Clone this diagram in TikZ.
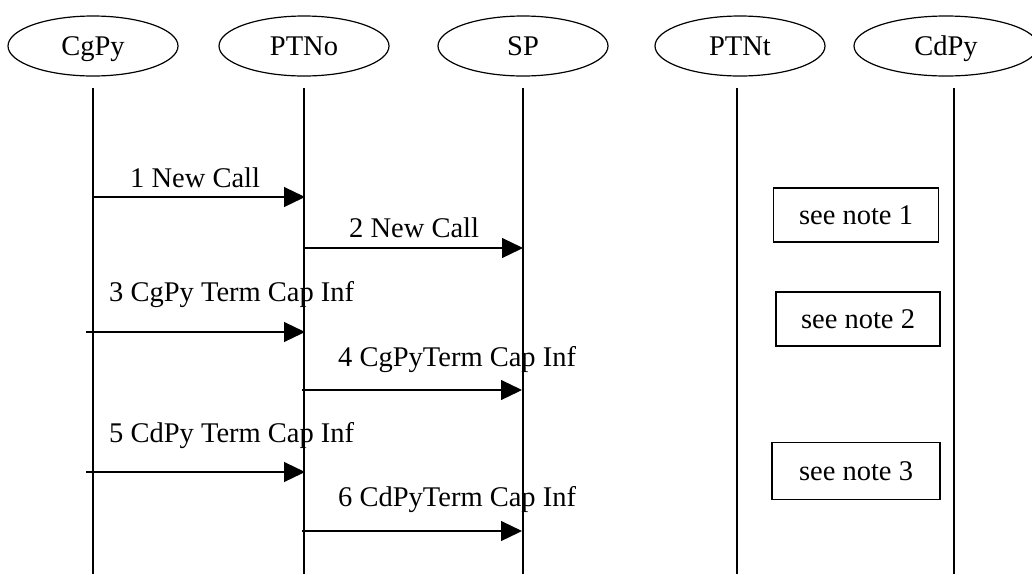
\documentclass[tikz,border=0pt]{standalone}
\usepackage{fontspec}
\setmainfont{Liberation Serif}
\usetikzlibrary{shapes.geometric, arrows.meta}

\begin{document}
\begin{tikzpicture}[x=1pt, y=-1pt, font=\fontsize{28.5}{34}\selectfont]
    % Styles
    \tikzstyle{party} = [ellipse, draw, line width=1.2pt, minimum width=170pt, minimum height=60pt, inner sep=0pt, text height=19pt, text depth=1pt]
    \tikzstyle{note} = [draw, line width=1.2pt, minimum width=165pt, minimum height=54pt, inner sep=0pt]
    \tikzstyle{msg} = [anchor=base west, inner sep=0pt]
    \tikzstyle{lifeline} = [line width=1.2pt]
    \tikzstyle{signal} = [-{Triangle[length=21pt, width=20pt]}, line width=1.2pt]

    \useasboundingbox (0,0) rectangle (1032,574);

    % Nodes
    \node[party] (cgpy) at (93, 46) {CgPy};
    \node[party] (ptno) at (304, 46) {PTNo};
    \node[party] (sp) at (523, 46) {SP};
    \node[party] (ptnt) at (740, 46) {PTNt};
    \node[party, minimum width=184pt] (cdpy) at (946, 46) {CdPy};

    \node[note] (note1) at (856, 215) {see note 1};
    \node[note, minimum width=164pt] (note2) at (858, 319) {see note 2};
    \node[note, minimum width=168pt, minimum height=57pt] (note3) at (856, 471) {see note 3};

    \node[msg] (msg1) at (130, 187) {1 New Call};
    \node[msg] (msg2) at (349, 237) {2 New Call};
    \node[msg] (msg3) at (109, 301) {3 CgPy Term Cap Inf};
    \node[msg] (msg4) at (338, 366) {4 CgPyTerm Cap Inf};
    \node[msg] (msg5) at (109, 442) {5 CdPy Term Cap Inf};
    \node[msg] (msg6) at (338, 506) {6 CdPyTerm Cap Inf};

    % Lifeline ends
    \coordinate (cgpy top) at (93, 88);   \coordinate (cgpy bottom) at (93, 574);
    \coordinate (ptno top) at (304, 88);  \coordinate (ptno bottom) at (304, 574);
    \coordinate (sp top) at (523, 88);    \coordinate (sp bottom) at (523, 574);
    \coordinate (ptnt top) at (737, 88);  \coordinate (ptnt bottom) at (737, 574);
    \coordinate (cdpy top) at (954, 88);  \coordinate (cdpy bottom) at (954, 574);

    % Signal ends
    \coordinate (s1) at (93, 197);  \coordinate (e1) at (305, 197);
    \coordinate (s2) at (304, 248); \coordinate (e2) at (523, 248);
    \coordinate (s3) at (86, 332);  \coordinate (e3) at (305, 332);
    \coordinate (s4) at (302, 390); \coordinate (e4) at (522, 390);
    \coordinate (s5) at (86, 472);  \coordinate (e5) at (305, 472);
    \coordinate (s6) at (302, 531); \coordinate (e6) at (522, 531);

    % Edges
    \draw[lifeline] (cgpy top) -- (cgpy bottom);
    \draw[lifeline] (ptno top) -- (ptno bottom);
    \draw[lifeline] (sp top) -- (sp bottom);
    \draw[lifeline] (ptnt top) -- (ptnt bottom);
    \draw[lifeline] (cdpy top) -- (cdpy bottom);

    \draw[signal] (s1) -- (e1);
    \draw[signal] (s2) -- (e2);
    \draw[signal] (s3) -- (e3);
    \draw[signal] (s4) -- (e4);
    \draw[signal] (s5) -- (e5);
    \draw[signal] (s6) -- (e6);
\end{tikzpicture}
\end{document}
